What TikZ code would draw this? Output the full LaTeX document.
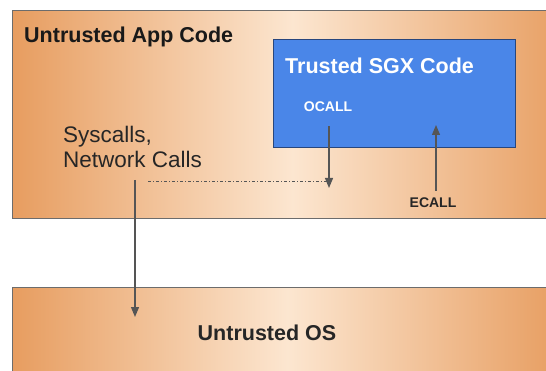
\documentclass[tikz,border=0pt]{standalone}
\usepackage{fontspec}
\setmainfont{Liberation Sans}
\usetikzlibrary{arrows.meta}
\definecolor{orangeedge}{RGB}{231,157,96}
\definecolor{orangemid}{RGB}{252,230,208}
\definecolor{sgxblue}{RGB}{74,134,232}
\definecolor{sgxline}{RGB}{40,70,125}
\definecolor{arrowgray}{RGB}{85,85,85}
\newcommand{\bigtxt}      {\fontsize{21.5}{25}\selectfont}
\newcommand{\midtxt}      {\fontsize{22.5}{25}\selectfont}
\newcommand{\smalltxt}    {\fontsize{14}{17}\selectfont}

\begin{document}
\begin{tikzpicture}[x=1pt,y=-1pt,
   layer/.style={draw=gray!85!black,line width=1.1pt,shading=axis,left color=orangeedge,right color=orangeedge,middle color=orangemid},
   arr/.style={draw=arrowgray,line width=1.2pt,-{Triangle[length=10pt,width=8pt]}}]
   \useasboundingbox (0,0) rectangle (546,371);
   \clip (0,0) rectangle (546,371);
   \node[layer,minimum width=560,minimum height=208,inner sep=0,anchor=north west] (app) at (12,10) {};
   \node[layer,minimum width=550,minimum height=100,inner sep=0,anchor=north west] (osbox) at (12,287) {};
   \node[draw=sgxline,line width=1pt,fill=sgxblue,minimum width=242,minimum height=108,inner sep=0,anchor=north west] (sgx) at (273,39) {};
   \node[anchor=west,inner sep=0,font=\bigtxt\bfseries,text=black!90] (apptitle) at (24,37) {Untrusted App Code};
   \node[anchor=west,inner sep=0,font=\bigtxt\bfseries,text=white] (sgxtitle) at (285,66) {Trusted SGX Code};
   \node[inner sep=0,font=\smalltxt\bfseries,text=white] (ocall) at (328,107) {OCALL};
   \node[inner sep=0,font=\smalltxt\bfseries,text=black!85] (ecall) at (433,203) {ECALL};
   \node[anchor=west,inner sep=0,align=left,font=\midtxt,text=black!85] (sys) at (63,147) {Syscalls,\\Network Calls};
   \node[inner sep=0,font=\bigtxt\bfseries,text=black!85] (os) at (267,333) {Untrusted OS};
   \coordinate (ocallend) at (329,188);
   \coordinate (ecallend) at (436,125);
   \coordinate (dashstart) at (148,182);
   \coordinate (sysend) at (135,317);
   \draw[arr,shorten <=14pt] (ocall.south -| ocallend) -- (ocallend);
   \draw[arr,shorten <=7pt] (ecall.north -| ecallend) -- (ecallend);
   \draw[arrowgray,line width=1pt,dash dot] (dashstart) -- (dashstart -| ocallend);
   \draw[arr,shorten <=12pt] (sys.south -| sysend) -- (sysend);
\end{tikzpicture}
\end{document}
